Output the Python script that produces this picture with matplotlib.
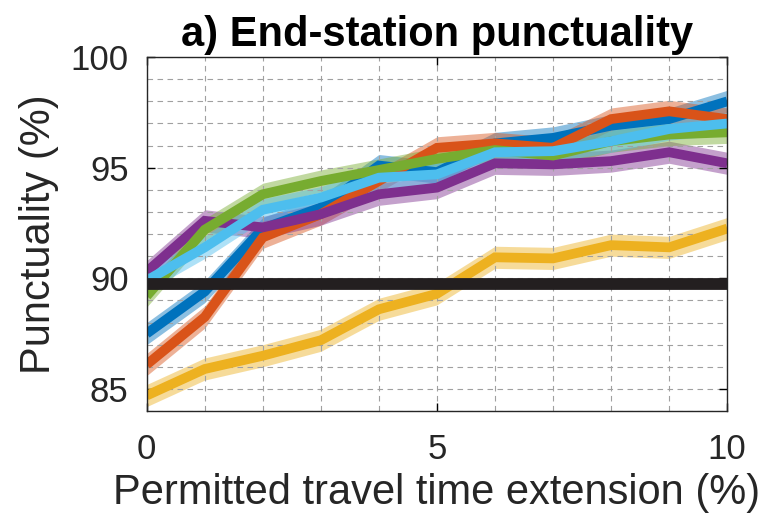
import numpy as np
import matplotlib
matplotlib.use("Agg")
import matplotlib.pyplot as plt

plt.rcParams['font.family'] = ['Liberation Sans', 'DejaVu Sans']

# Permitted travel time extension (%)
extension = [0, 1, 2, 3, 4, 5, 6, 7, 8, 9, 10]

# End-station punctuality (%) for each scenario
series_blue = [87.5, 89.4, 92.25, 93.2, 95.1, 94.8, 96.1, 96.35, 96.9, 97.2, 98.0]
series_orange = [86.1, 88.25, 91.85, 92.9, 94.4, 95.9, 96.1, 95.9, 97.2, 97.55, 97.2]
series_yellow = [84.7, 85.9, 86.5, 87.2, 88.6, 89.3, 90.95, 90.9, 91.5, 91.4, 92.25]
series_purple = [90.3, 92.6, 92.3, 92.9, 93.8, 94.1, 95.2, 95.15, 95.3, 95.7, 95.2]
series_green = [89.2, 92.2, 93.8, 94.4, 94.9, 95.4, 95.8, 95.55, 96.2, 96.5, 96.6]
series_lightblue = [89.9, 91.4, 93.1, 93.65, 94.55, 94.7, 95.7, 95.75, 96.2, 96.75, 97.0]

# Punctuality target
target = 89.73

colors = ['#0072BD', '#D95319', '#EDB120', '#7E2F8E', '#77AC30', '#4DBEEE']
all_series = [series_blue, series_orange, series_yellow,
              series_purple, series_green, series_lightblue]
band = 0.5

fig = plt.figure(figsize=(7.72, 5.29), dpi=100)
ax = fig.add_axes([0.190, 0.223, 0.752, 0.669])

x = np.array(extension)
for ys, c in zip(all_series, colors):
    ys = np.array(ys)
    ax.fill_between(x, ys - band, ys + band, color=c, alpha=0.45, lw=0)
    ax.plot(x, ys, color=c, lw=7, solid_capstyle='butt', solid_joinstyle='miter')

ax.plot([x[0], x[-1]], [target, target], color='#231f20', lw=8.5, solid_capstyle='butt')

ax.set_xlim(0, 10)
ax.set_ylim(84, 100)
ax.set_xticks([0, 5, 10])
ax.set_yticks([85, 90, 95, 100])
ax.set_xticks(np.arange(0, 11, 1), minor=True)
ax.set_yticks(np.arange(84, 101, 1), minor=True)
ax.grid(True, which='both', color='#a0a0a0', linestyle=(0, (5, 4)), lw=0.8)
ax.tick_params(which='major', direction='in', length=6, width=1, top=True, right=True,
               labelsize=25, pad=13, labelcolor='#262626')
ax.tick_params(axis='x', which='major', pad=16)
ax.tick_params(which='minor', length=0)
for s in ax.spines.values():
    s.set_color('#262626')
    s.set_linewidth(1)

ax.set_title('a) End-station punctuality', fontsize=30, fontweight='bold', pad=8)
ax.set_xlabel('Permitted travel time extension (%)', fontsize=30, labelpad=5,
              color='#262626')
ax.set_ylabel('Punctuality (%)', fontsize=30, labelpad=8, color='#262626')

fig.savefig('out.png', dpi=100)
